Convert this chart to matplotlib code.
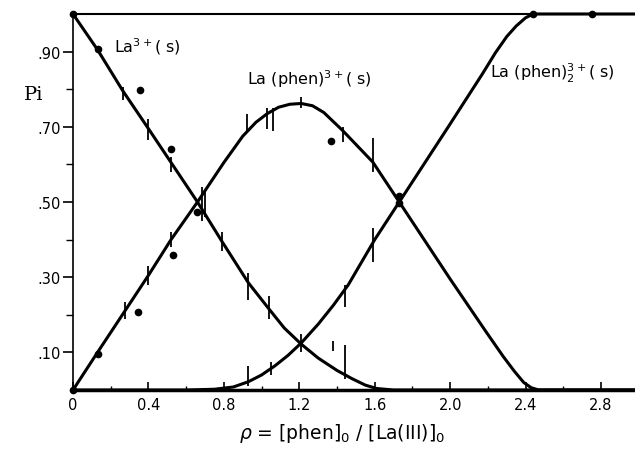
import matplotlib
matplotlib.use("Agg")
import matplotlib.pyplot as plt

la_x = [0.0, 0.13, 0.265, 0.40, 0.52, 0.66, 0.79, 0.93, 1.04, 1.12, 1.21, 1.30, 1.40, 1.48, 1.55, 1.61, 1.70, 2.98]
la_y = [1.0, 0.905, 0.795, 0.695, 0.605, 0.50, 0.395, 0.285, 0.215, 0.165, 0.122, 0.085, 0.052, 0.03, 0.013, 0.004, 0.0, 0.0]

phen_x = [0.0, 0.13, 0.275, 0.40, 0.52, 0.66, 0.80, 0.90, 0.97, 1.03, 1.09, 1.15, 1.21, 1.27, 1.33, 1.43, 1.59, 1.73,
          2.00, 2.19, 2.28, 2.34, 2.39, 2.43, 2.47, 2.98]
phen_y = [0.0, 0.10, 0.21, 0.305, 0.40, 0.50, 0.605, 0.675, 0.712, 0.735, 0.752, 0.76, 0.762, 0.756, 0.738, 0.690, 0.606, 0.50,
          0.295, 0.155, 0.09, 0.05, 0.02, 0.006, 0.0, 0.0]

phen2_x = [0.0, 0.60, 0.75, 0.85, 0.93, 1.00, 1.07, 1.14, 1.21, 1.30, 1.38, 1.46, 1.60, 1.73, 1.99, 2.17, 2.24, 2.30, 2.35, 2.40, 2.44, 2.98]
phen2_y = [0.0, 0.0, 0.002, 0.008, 0.022, 0.04, 0.064, 0.092, 0.125, 0.175, 0.225, 0.28, 0.40, 0.50, 0.70, 0.84, 0.897, 0.94, 0.968, 0.99, 1.0, 1.0]

# --- experimental points ---
pts_x = [0.0, 0.13, 0.355, 0.52, 0.66, 0.0, 0.13, 0.345, 0.53, 1.37, 1.73, 1.73, 2.44, 2.75]
pts_y = [1.0, 0.907, 0.798, 0.641, 0.473, 0.0, 0.096, 0.207, 0.359, 0.662, 0.516, 0.497, 1.0, 1.0]

# --- vertical uncertainty marks (x, low, high) ---
mark_x = [0.265, 0.40, 0.52, 0.685, 0.70, 0.79, 0.93, 1.04, 1.21, 1.44, 1.38,
          0.275, 0.40, 0.52, 0.92, 1.03, 1.06, 1.21, 1.43, 1.59,
          0.93, 1.05, 1.44, 1.59]
mark_lo = [0.77, 0.665, 0.58, 0.45, 0.46, 0.37, 0.24, 0.19, 0.10, 0.03, 0.105,
           0.19, 0.28, 0.38, 0.69, 0.695, 0.69, 0.75, 0.66, 0.58,
           0.01, 0.04, 0.22, 0.34]
mark_hi = [0.805, 0.72, 0.62, 0.54, 0.53, 0.42, 0.31, 0.25, 0.15, 0.12, 0.13,
           0.235, 0.33, 0.42, 0.735, 0.75, 0.75, 0.78, 0.70, 0.67,
           0.065, 0.075, 0.28, 0.43]

xticks = [0, 0.4, 0.8, 1.2, 1.6, 2.0, 2.4, 2.8]
xticklabels = ["0", "0.4", "0.8", "1.2", "1.6", "2.0", "2.4", "2.8"]
xminor = [0.2, 0.6, 1.0, 1.4, 1.8, 2.2, 2.6]
yticks = [0.1, 0.3, 0.5, 0.7, 0.9]
yticklabels = [".10", ".30", ".50", ".70", ".90"]
yminor = [0.2, 0.4, 0.6, 0.8]

fig = plt.figure(figsize=(6.35, 4.52), dpi=100)
ax = fig.add_axes([73/635, 61/452, 562/635, 376/452])

lw = 2.2
for cx, cy in [(la_x, la_y), (phen_x, phen_y), (phen2_x, phen2_y)]:
    ax.plot(cx, cy, color="black", lw=lw, clip_on=False,
            solid_capstyle="butt", solid_joinstyle="round")
ax.plot(pts_x, pts_y, "o", color="black", ms=4.5, clip_on=False)
ax.vlines(mark_x, mark_lo, mark_hi, color="black", lw=1.3)

ax.set_xlim(0, 2.98)
ax.set_ylim(0, 1.0)

ax.spines["right"].set_visible(False)
ax.spines["top"].set_linewidth(1.5)
ax.spines["left"].set_linewidth(1.2)
ax.spines["bottom"].set_linewidth(2.5)

ax.set_xticks(xticks)
ax.set_xticklabels(xticklabels)
ax.set_xticks(xminor, minor=True)
ax.set_yticks(yticks)
ax.set_yticklabels(yticklabels)
ax.set_yticks(yminor, minor=True)

ax.tick_params(axis="x", which="major", direction="in", length=6, width=1.2, labelsize=10.5, pad=5)
ax.tick_params(axis="x", which="minor", direction="in", length=3, width=1.0)
ax.tick_params(axis="y", which="major", direction="out", length=7, width=1.2, labelsize=10.5, pad=2)
ax.tick_params(axis="y", which="minor", direction="out", length=5, width=1.0)

fig.text(24/635, 1 - 95/452, "Pi", fontsize=14, family="DejaVu Serif", va="center", ha="left")

ax.text(0.22, 0.915, r"La$^{3+}$( s)", fontsize=11.5, va="center", ha="left")
ax.text(0.92, 0.83, r"La (phen)$^{3+}$( s)", fontsize=11.5, va="center", ha="left")
ax.text(2.21, 0.845, r"La (phen)$_2^{3+}$( s)", fontsize=11.5, va="center", ha="left")

fig.text(342/635, 1 - 434/452, r"$\rho$ = [phen]$_0$ / [La(III)]$_0$", fontsize=13.5,
         ha="center", va="center")

fig.savefig("out.png", dpi=100)
